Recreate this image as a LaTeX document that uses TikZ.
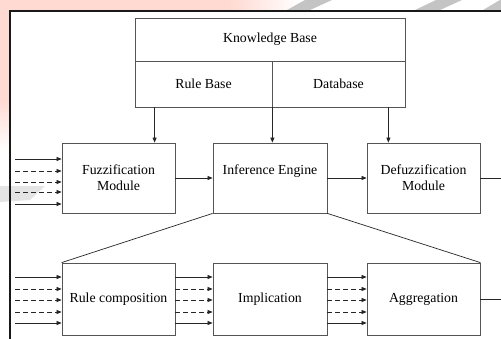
\documentclass[tikz,border=0pt]{standalone}
\usepackage{fontspec}
\setmainfont{Liberation Serif}
\usetikzlibrary{arrows.meta,calc}
\definecolor{pinkbg}{RGB}{255,218,210}
\definecolor{boxline}{RGB}{85,85,85}
\definecolor{wm}{RGB}{196,196,196}
\definecolor{wmlight}{RGB}{228,228,228}
\begin{document}
\begin{tikzpicture}[x=1pt,y=-1pt,
  box/.style={draw=boxline, line width=0.8pt, fill=white, inner sep=1pt, align=center,
    font=\fontsize{13.8}{16}\selectfont},
  arr/.style={draw=black!85, line width=0.7pt, -{Triangle[length=5pt,width=4pt]}},
  darr/.style={arr, dash pattern=on 5pt off 3pt},
  link/.style={draw=black!85, line width=0.7pt},
  frame/.style={draw=black!90, line width=2pt}]
\useasboundingbox (0,0) rectangle (501,338);
% background watermark remnants
\fill[white] (0,0) rectangle (501,338);
\fill[pinkbg] (0,0) rectangle (230,10);
\shade[left color=pinkbg, right color=white] (230,0) rectangle (300,10);
\fill[pinkbg] (0,0) rectangle (9,100);
\shade[top color=pinkbg, bottom color=white] (0,100) rectangle (9,150);
\fill[wm] (287,10) -- (310,10) -- (332,0) -- (305,0) -- cycle;
\fill[wm] (415,10) -- (440,10) -- (462,0) -- (436,0) -- cycle;
\fill[wm] (483,10) -- (501,10) -- (501,0) -- (500,0) -- cycle;
\fill[wmlight] (0,186) -- (45,186) -- (30,200) -- (0,202) -- cycle;
% frame
\draw[frame] (10,342) -- (10,10.5) -- (505,10.5);
% knowledge base
\node[box, minimum width=270pt, minimum height=43pt] (kb) at (270,39.5) {Knowledge Base};
\node[box, minimum width=137pt, minimum height=46pt] (rb) at (203.5,84) {Rule Base};
\node[box, minimum width=133pt, minimum height=46pt] (db) at (338.5,84) {Database};
% upper row
\node[box, minimum width=113pt, minimum height=70pt] (fm) at (118.5,178) {Fuzzification\\Module};
\node[box, minimum width=114pt, minimum height=70pt] (ie) at (270,178) {Inference Engine\\\phantom{M}};
\node[box, minimum width=113pt, minimum height=70pt] (df) at (423.5,178) {Defuzzification\\Module};
% lower row
\node[box, minimum width=113pt, minimum height=72pt] (rc) at (118.5,299) {Rule composition};
\node[box, minimum width=114pt, minimum height=72pt] (im) at (270,299) {Implication};
\node[box, minimum width=113pt, minimum height=72pt] (ag) at (423.5,299) {Aggregation};
% arrows from knowledge base
\draw[arr] ($(rb.south west)+(20,0)$) coordinate (k1) -- (k1 |- fm.north);
\draw[arr] (rb.south east) coordinate (k2) -- (k2 |- ie.north);
\draw[arr] ($(db.south east)+(-17,0)$) coordinate (k3) -- (k3 |- df.north);
% upper inputs
\foreach \y/\s [count=\i] in {159/arr,171/darr,182/darr,192/darr,204/arr} {
  \coordinate (u\i) at (15,\y);
  \draw[\s] (u\i) -- (u\i -| fm.west);
}
\draw[arr] (fm.east) -- (ie.west);
\draw[arr] (ie.east) -- (df.west);
\draw[arr] (df.east) -- ++(26,0) coordinate (outu);
% lower inputs
\foreach \y/\s [count=\i] in {277/arr,289/darr,300/darr,312/darr,323/arr} {
  \coordinate (l\i) at (15,\y);
  \draw[\s] (l\i) -- (l\i -| rc.west);
  \draw[\s] (l\i -| rc.east) -- (l\i -| im.west);
  \draw[\s] (l\i -| im.east) -- (l\i -| ag.west);
}
\draw[arr] (ag.east) -- ++(26,0) coordinate (outl);
% zoom lines
\draw[link] (ie.south west) -- (rc.north west);
\draw[link] (ie.south east) -- (ag.north east);
\end{tikzpicture}
\end{document}
